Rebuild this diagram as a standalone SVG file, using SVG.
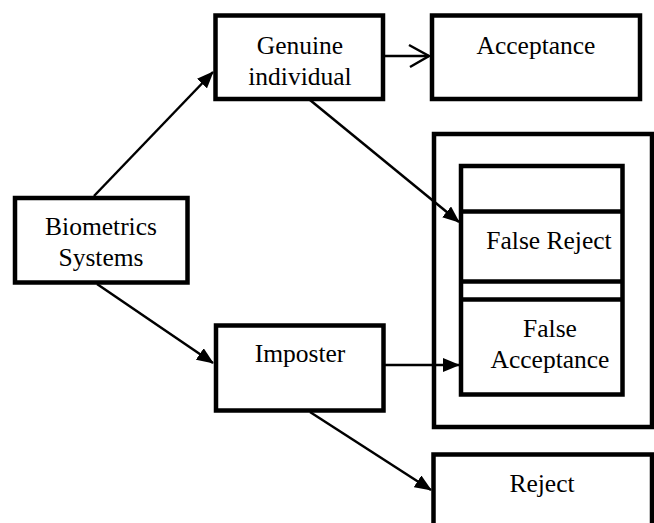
<svg xmlns="http://www.w3.org/2000/svg" width="654" height="523" viewBox="0 0 654 523">
<style>
.box{fill:#fff;stroke:#000;stroke-width:4.5}
.t{font-family:"Liberation Serif","Times New Roman",serif;font-size:25.5px;fill:#000;text-anchor:middle}
.c{fill:none;stroke:#000;stroke-width:2.5}
</style>
<defs>
<marker id="ah" markerUnits="userSpaceOnUse" markerWidth="18" markerHeight="14" refX="16" refY="7" orient="auto">
<path d="M0,0 L17,7 L0,14 z" fill="#000"/>
</marker>
</defs>
<rect width="654" height="523" fill="#fff"/>
<g id="biometrics">
<rect class="box" x="15" y="198" width="172.5" height="84.5"/>
<text class="t" x="101" y="235">Biometrics</text>
<text class="t" x="101" y="266">Systems</text>
</g>
<g id="genuine">
<rect class="box" x="215.5" y="15.5" width="167.5" height="83.5"/>
<text class="t" x="300" y="54">Genuine</text>
<text class="t" x="300" y="85">individual</text>
</g>
<g id="acceptance">
<rect class="box" x="432" y="15.5" width="208" height="83.5"/>
<text class="t" x="536" y="54">Acceptance</text>
</g>
<g id="imposter">
<rect class="box" x="216" y="325.5" width="167.5" height="85"/>
<text class="t" x="300" y="362">Imposter</text>
</g>
<g id="errors">
<rect class="box" x="434" y="134" width="218" height="293"/>
</g>
<g id="false-stack">
<rect class="box" x="461" y="166" width="161.5" height="228.5"/>
<line x1="461" y1="211.5" x2="622.5" y2="211.5" stroke="#000" stroke-width="4.5"/>
<line x1="461" y1="281.5" x2="622.5" y2="281.5" stroke="#000" stroke-width="4.5"/>
<line x1="461" y1="299.5" x2="622.5" y2="299.5" stroke="#000" stroke-width="4.5"/>
<text class="t" x="549" y="249">False Reject</text>
<text class="t" x="550" y="337">False</text>
<text class="t" x="550" y="368">Acceptance</text>
</g>
<g id="reject">
<rect class="box" x="433.5" y="454.5" width="218.5" height="75"/>
<text class="t" x="542" y="492">Reject</text>
</g>
<g id="connectors">
<line class="c" x1="94" y1="196" x2="213" y2="72" marker-end="url(#ah)"/>
<line class="c" x1="97" y1="284" x2="213" y2="363" marker-end="url(#ah)"/>
<line class="c" x1="385" y1="56" x2="429" y2="56"/>
<polyline class="c" points="409,45 429,56 410,67"/>
<line class="c" x1="310" y1="100" x2="459" y2="222" marker-end="url(#ah)"/>
<line class="c" x1="385" y1="365" x2="459" y2="365" marker-end="url(#ah)"/>
<line class="c" x1="310" y1="412" x2="431" y2="490" marker-end="url(#ah)"/>
</g>
</svg>
